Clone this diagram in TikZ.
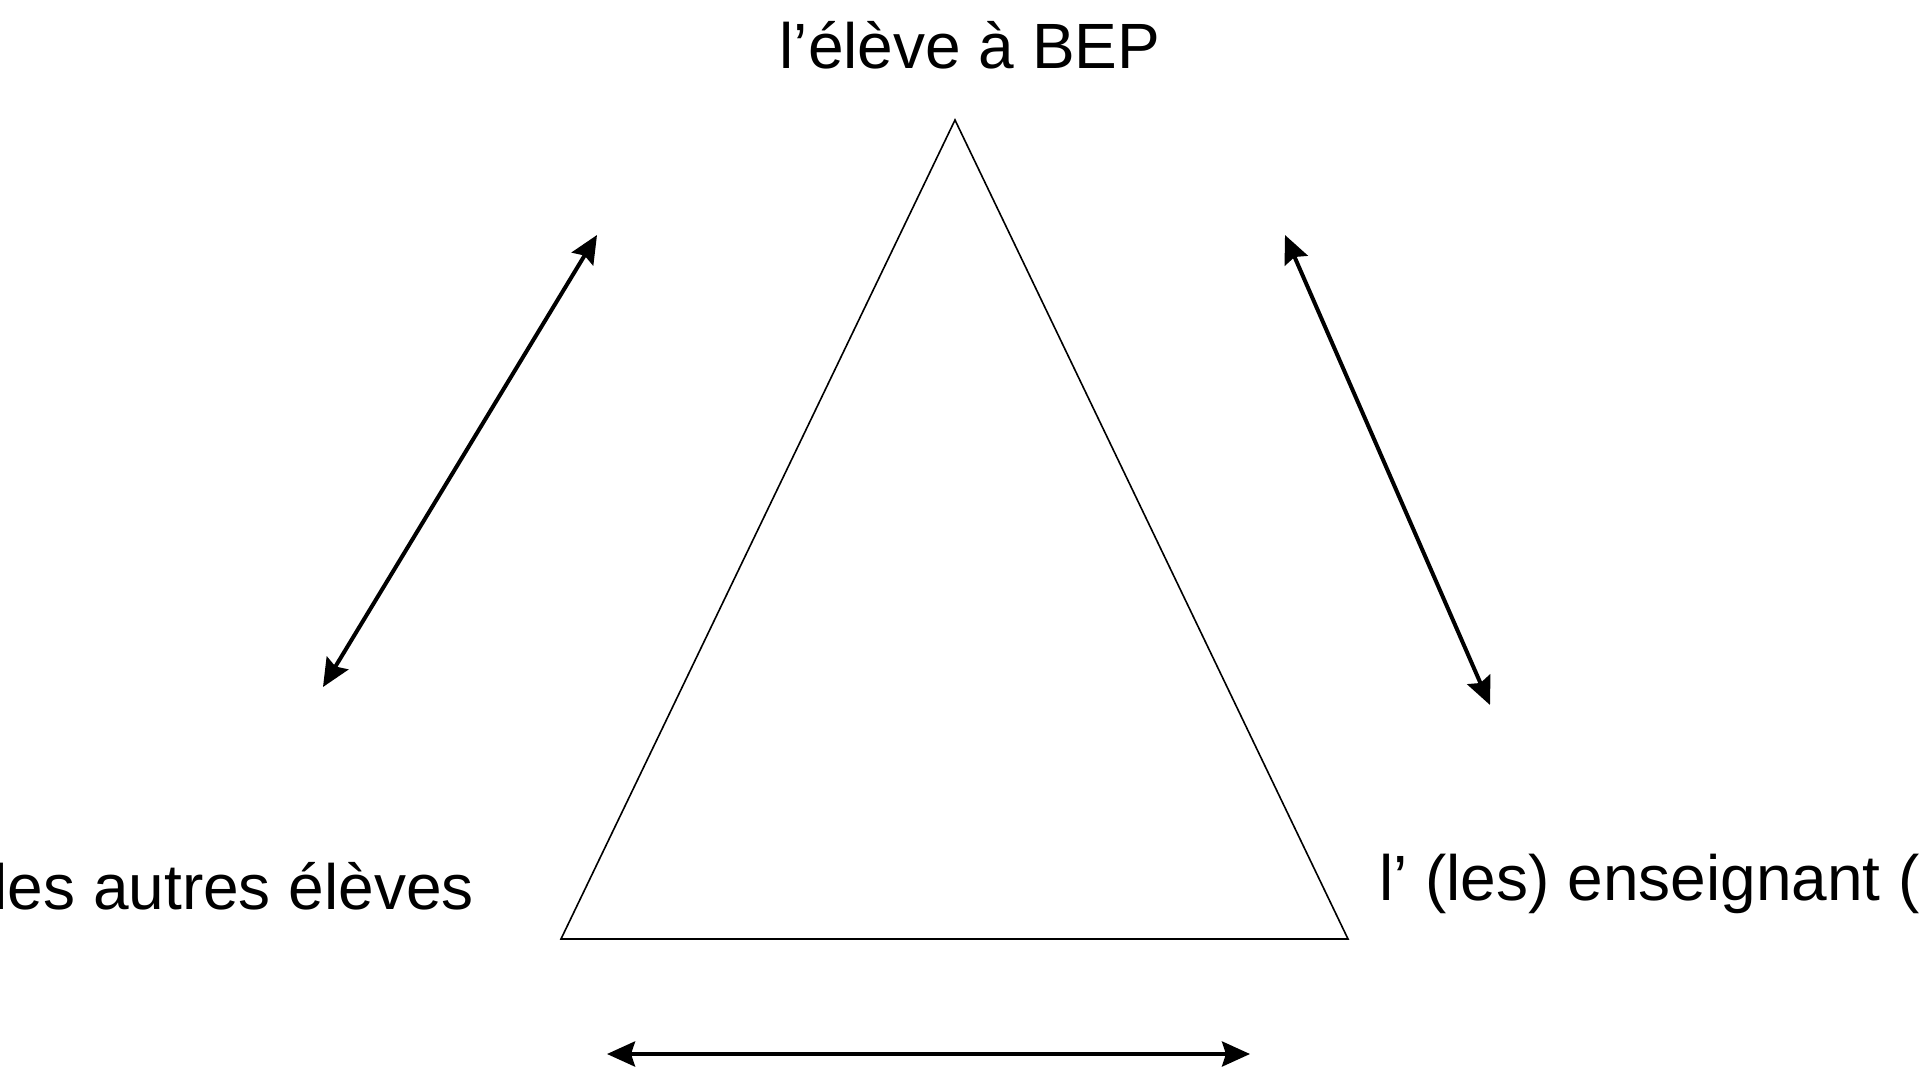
\documentclass[tikz,border=0pt]{standalone}
\usepackage{fontspec}
\setmainfont{Liberation Sans}
\usetikzlibrary{arrows.meta}
\tikzset{
  lbl/.style={inner sep=0pt, font=\fontsize{64}{76}\selectfont},
  tri/.style={line width=1.6pt, black, line join=miter},
  rel/.style={line width=4pt, {Stealth[length=28pt,width=25pt,inset=4pt]}-{Stealth[length=28pt,width=25pt,inset=4pt]}}
}
\begin{document}
\begin{tikzpicture}[x=1pt,y=-1pt]
\useasboundingbox (0,0) rectangle (1920,1071);
\fill[white] (0,0) rectangle (1920,1071);
% texts
\node[lbl, anchor=base] (top) at (970,68) {l’élève à BEP};
\node[lbl, anchor=base east] (left) at (474,909) {les autres élèves};
\node[lbl, anchor=base west] (right) at (1379,900) {l’ (les) enseignant (s)};
% triangle
\coordinate (A) at (955,120);
\coordinate (B) at (561,939);
\coordinate (C) at (1348,939);
\draw[tri] (A) -- (B) -- (C) -- cycle;
% arrow ends
\coordinate (l1) at (597,235);
\coordinate (l2) at (323,687);
\coordinate (r1) at (1285,235);
\coordinate (r2) at (1490,705);
\coordinate (b1) at (607,1054);
\coordinate (b2) at (1250,1054);
\draw[rel] (l2) -- (l1);
\draw[rel] (r1) -- (r2);
\draw[rel] (b1) -- (b2);
\end{tikzpicture}
\end{document}
